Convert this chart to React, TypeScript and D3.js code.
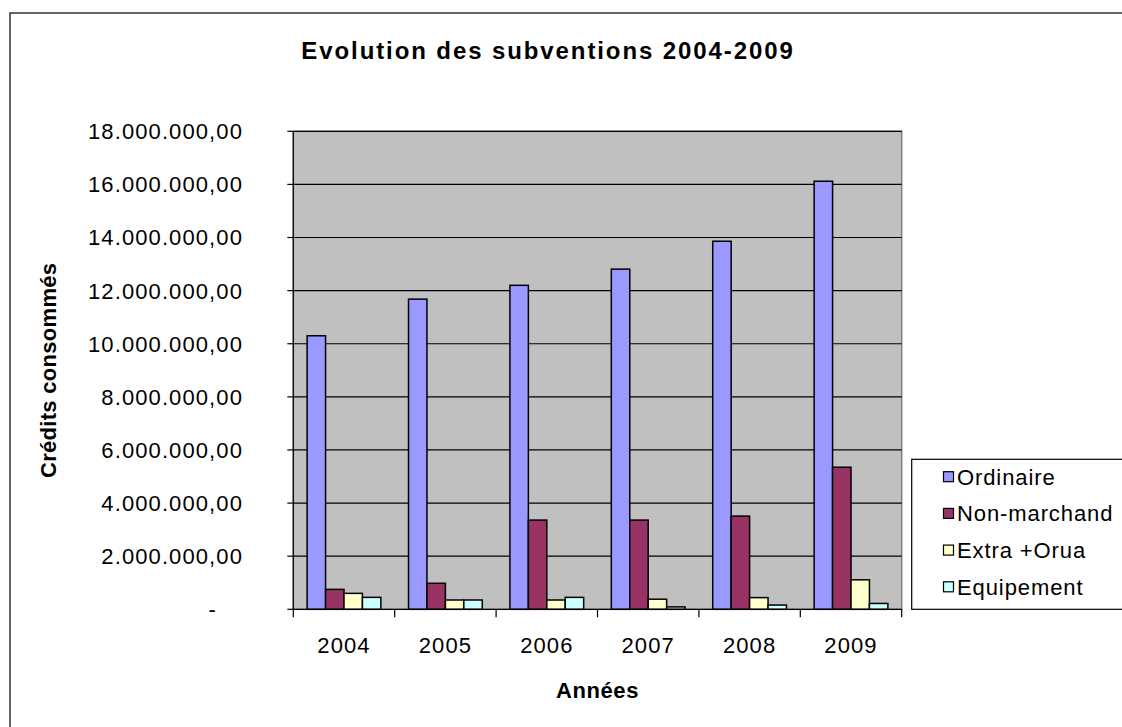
import React from "react";
import * as d3 from "d3";

const years = ["2004", "2005", "2006", "2007", "2008", "2009"];
const seriesNames = ["Ordinaire", "Non-marchand", "Extra +Orua", "Equipement"];
const ordinaire = [10300000, 11680000, 12200000, 12810000, 13860000, 16120000];
const nonMarchand = [750000, 980000, 3360000, 3360000, 3510000, 5350000];
const extraOrua = [600000, 350000, 350000, 380000, 440000, 1110000];
const equipement = [450000, 350000, 450000, 90000, 160000, 220000];
const yTicks = [0, 2000000, 4000000, 6000000, 8000000, 10000000, 12000000, 14000000, 16000000, 18000000];
const colors = ["#9999FF", "#993366", "#FFFFCC", "#CCFFFF"];

const allSeries = [ordinaire, nonMarchand, extraOrua, equipement];

const FONT = "'Liberation Sans', Arial, sans-serif";

export default function App() {
  const W = 1122, H = 727;
  const left = 293.3, right = 901.7, top = 131.3, bottom = 609.3;
  const x = d3.scaleBand().domain(years).range([left, right]).padding(0);
  const bw = x.bandwidth();
  const barW = bw / (seriesNames.length + 1.5);
  const xs = d3.scaleBand().domain(seriesNames).range([barW * 0.75, bw - barW * 0.75]).padding(0);
  const y = d3.scaleLinear().domain([0, 18000000]).range([bottom, top]);
  const loc = d3.formatLocale({ decimal: ",", thousands: ".", grouping: [3], currency: ["", ""] });
  const fmt = loc.format(",.2f");

  return (
    <svg width={W} height={H} style={{ position: "absolute", left: 0, top: 0, background: "#fff" }} fontFamily={FONT}>
      <rect x={10} y={13} width={W + 20} height={H + 20} fill="#fff" stroke="#333" strokeWidth={1.5} />
      <text x={548} y={59} textAnchor="middle" fontSize={24} fontWeight="bold" letterSpacing={1.9}>
        Evolution des subventions 2004-2009
      </text>
      <rect x={left} y={top} width={right - left} height={bottom - top} fill="#C0C0C0" stroke="#808080" strokeWidth={1.5} />
      {yTicks.slice(1).map((t) => (
        <line key={t} x1={left} x2={right} y1={y(t)} y2={y(t)} stroke="#000" strokeWidth={1.2} />
      ))}
      {/* y axis */}
      <line x1={left} x2={left} y1={top} y2={bottom} stroke="#000" strokeWidth={1.2} />
      {yTicks.map((t) => (
        <g key={"yt" + t}>
          <line x1={left - 6} x2={left} y1={y(t)} y2={y(t)} stroke="#000" strokeWidth={1.2} />
          <text x={t === 0 ? 217 : 243} y={y(t)} dy="0.36em" textAnchor="end" fontSize={22} letterSpacing={1.1}>
            {t === 0 ? "-" : fmt(t)}
          </text>
        </g>
      ))}
      {/* bars */}
      {years.map((yr, i) => (
        <g key={yr} transform={`translate(${x(yr)},0)`}>
          {allSeries.map((s, j) => (
            <rect
              key={j}
              x={xs(seriesNames[j])}
              y={y(s[i])}
              width={xs.bandwidth()}
              height={bottom - y(s[i])}
              fill={colors[j]}
              stroke="#000"
              strokeWidth={1.5}
            />
          ))}
        </g>
      ))}
      {/* x axis */}
      <line x1={left} x2={right} y1={bottom} y2={bottom} stroke="#000" strokeWidth={1.2} />
      {[...years.map((yr) => x(yr) as number), right].map((px, i) => (
        <line key={"xt" + i} x1={px} x2={px} y1={bottom} y2={bottom + 8} stroke="#000" strokeWidth={1.2} />
      ))}
      {years.map((yr) => (
        <text key={"xl" + yr} x={(x(yr) as number) + bw / 2} y={653} textAnchor="middle" fontSize={22} letterSpacing={1.1}>
          {yr}
        </text>
      ))}
      <text x={(left + right) / 2} y={698} textAnchor="middle" fontSize={22} fontWeight="bold" letterSpacing={0.6}>
        Années
      </text>
      <text
        transform={`translate(56,${(top + bottom) / 2}) rotate(-90)`}
        textAnchor="middle"
        fontSize={22}
        fontWeight="bold"
        letterSpacing={0.3}
      >
        Crédits consommés
      </text>
      {/* legend */}
      <rect x={911.7} y={459.3} width={260} height={150} fill="#fff" stroke="#000" strokeWidth={1.2} />
      {seriesNames.map((n, j) => {
        const cy = 476.7 + j * 36.7;
        return (
          <g key={n}>
            <rect x={943.5} y={cy - 5} width={10} height={10} fill={colors[j]} stroke="#000" strokeWidth={1.2} />
            <text x={957} y={cy} dy="0.36em" fontSize={22} letterSpacing={0.9}>
              {n}
            </text>
          </g>
        );
      })}
    </svg>
  );
}
